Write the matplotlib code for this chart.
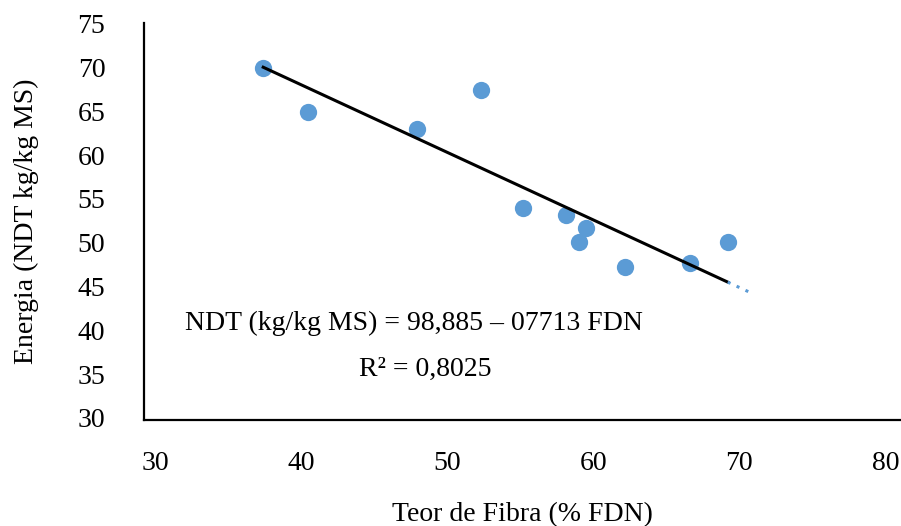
import matplotlib.pyplot as plt
import numpy as np

plt.rcParams['font.family'] = ['Liberation Serif', 'DejaVu Serif']

# dados
fdn = [37.4, 40.5, 47.9, 52.3, 55.2, 58.1, 59.5, 59.0, 62.2, 66.6, 69.2]
ndt = [70.0, 64.9, 63.0, 67.4, 54.0, 53.2, 51.7, 50.1, 47.2, 47.7, 50.1]

# equação da reta mostrada no gráfico
intercepto = 98.885
inclinacao = -0.7713
x_previsao = 71.0

cor_pontos = "#5B9BD5"

fig = plt.figure(figsize=(9.01, 5.26), dpi=100)
ax = fig.add_axes([0.16, 0.2015, 0.839, 0.755])

ax.scatter(fdn, ndt, s=155, color=cor_pontos, zorder=2, linewidths=0)

# linha de tendência (preta) no intervalo dos dados + previsão pontilhada
x_linha = np.array([min(fdn), max(fdn)])
ax.plot(x_linha, intercepto + inclinacao * x_linha, color="black", lw=2.2, zorder=3)
x_prev = np.array([max(fdn), x_previsao])
ax.plot(x_prev, intercepto + inclinacao * x_prev, color=cor_pontos, lw=2.2,
        linestyle=(0, (1, 2.2)), zorder=3)

ax.set_xlim(29.25, 81.0)
ax.set_ylim(29.77, 75.1)
ax.set_xticks(range(30, 81, 10))
ax.set_yticks(range(30, 76, 5))
ax.tick_params(length=0, labelsize=20)
ax.tick_params(axis='y', pad=28)
ax.tick_params(axis='x', pad=22)

for lado in ['top', 'right']:
    ax.spines[lado].set_visible(False)
for lado in ['left', 'bottom']:
    ax.spines[lado].set_linewidth(1.6)
    ax.spines[lado].set_color("black")

ax.set_xlabel("Teor de Fibra (% FDN)", fontsize=20, labelpad=19)
ax.set_ylabel("Energia (NDT kg/kg MS)", fontsize=20, labelpad=28)

ax.text(47.7, 40.8, "NDT (kg/kg MS) = 98,885 – 07713 FDN", fontsize=20,
        ha="center", va="center")
ax.text(48.5, 35.5, "R² = 0,8025", fontsize=20, ha="center", va="center")

fig.savefig("out.png", dpi=100)
